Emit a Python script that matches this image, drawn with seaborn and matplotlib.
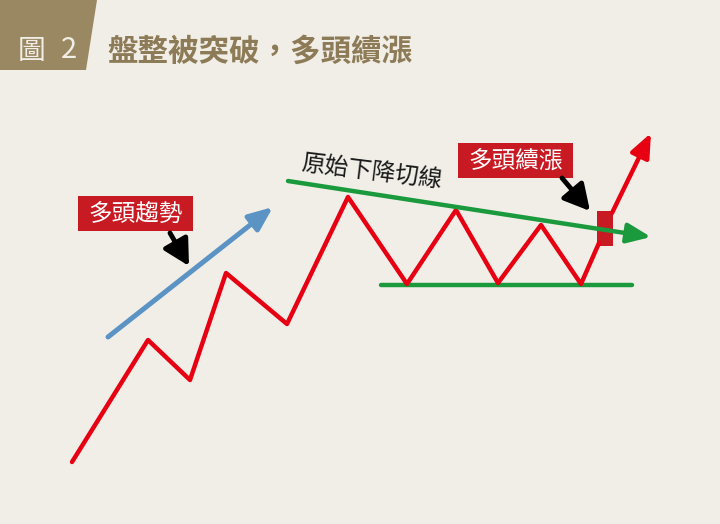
import numpy as np
import pandas as pd
import matplotlib.pyplot as plt
import seaborn as sns
from matplotlib.patches import Polygon, Rectangle

# data (pixel coords of the sketch)
red_x = [72, 148, 190, 226, 287, 348, 407, 456, 498, 541, 581, 599]
red_y = [462, 340, 380, 273, 324, 197, 284, 210, 283, 225, 284, 243]
breakout_start = (612, 213)
breakout_end = (651, 133)
candle_x = 605
candle_top, candle_bottom = 211, 246
resist_start = (288, 181)
resist_end = (651, 237)
support_x = [381, 632]
support_y = [285, 285]
trend_start = (108, 337)
trend_end = (273, 207)

title = "盤整被突破，多頭續漲"
fig_label = "圖 2"
label_trend = "多頭趨勢"
label_break = "多頭續漲"
label_line = "原始下降切線"

bg = "#f1eee7"
brown = "#9a8862"
red = "#e60012"
box_red = "#c81a22"
green = "#1a9a3c"
blue = "#5b93c4"

sns.set_theme(style="white")
plt.rcParams['font.family'] = ['Noto Sans CJK TC', 'DejaVu Sans']

fig = plt.figure(figsize=(7.2, 5.24), dpi=100, facecolor=bg)
ax = fig.add_axes([0, 0, 1, 1])
ax.set_facecolor(bg)
ax.set_xlim(0, 720)
ax.set_ylim(524, 0)
ax.axis("off")

# header band
ax.add_patch(Polygon([[0, 0], [97, 0], [86, 70], [0, 70]], closed=True, color=brown, lw=0))
ax.text(32, 51, fig_label.split()[0], color=bg, fontsize=20, ha="center", va="center")
ax.text(69, 50, fig_label.split()[1], color=bg, fontsize=21, ha="center", va="center")
ax.text(107, 52, title, color="#8c7b56", fontsize=22, ha="left", va="center", fontweight="bold")

# support line
sns.lineplot(x=support_x, y=support_y, ax=ax, color=green, lw=3.2, sort=False)

# resistance line with arrow
ax.annotate("", xy=resist_end, xytext=resist_start,
            arrowprops=dict(arrowstyle="-|>,head_length=1.2,head_width=0.5", color=green, lw=3.2,
                            shrinkA=0, shrinkB=0))

# price path
df = pd.DataFrame({"x": red_x, "y": red_y})
sns.lineplot(data=df, x="x", y="y", ax=ax, color=red, lw=3.2, sort=False)
ax.annotate("", xy=breakout_end, xytext=breakout_start,
            arrowprops=dict(arrowstyle="-|>,head_length=1.2,head_width=0.5", color=red, lw=3.2,
                            shrinkA=0, shrinkB=0))
ax.add_patch(Rectangle((candle_x - 8, candle_top), 16, candle_bottom - candle_top, color=box_red, lw=0))

# bullish trend arrow
ax.annotate("", xy=trend_end, xytext=trend_start,
            arrowprops=dict(arrowstyle="-|>,head_length=1.2,head_width=0.5", color=blue, lw=3.6,
                            shrinkA=0, shrinkB=0))

# labels
ax.add_patch(Rectangle((78, 196), 115, 35, color=box_red, lw=0))
ax.text(135.5, 214, label_trend, fontsize=17, color="white", ha="center", va="center")
ax.add_patch(Rectangle((458, 143), 115, 35, color=box_red, lw=0))
ax.text(515.5, 161, label_break, fontsize=17, color="white", ha="center", va="center")
ax.text(372, 172, label_line, fontsize=17, color="#1a1a1a", ha="center", va="center", rotation=-7)

# pointer arrows
ax.annotate("", xy=(189, 266), xytext=(170, 233),
            arrowprops=dict(arrowstyle="-|>,head_length=1.3,head_width=0.7", color="black", lw=3.5,
                            shrinkA=0, shrinkB=0))
ax.annotate("", xy=(590, 211), xytext=(562, 178),
            arrowprops=dict(arrowstyle="-|>,head_length=1.3,head_width=0.7", color="black", lw=3.5,
                            shrinkA=0, shrinkB=0))

fig.savefig("out.png", dpi=100, facecolor=bg)
